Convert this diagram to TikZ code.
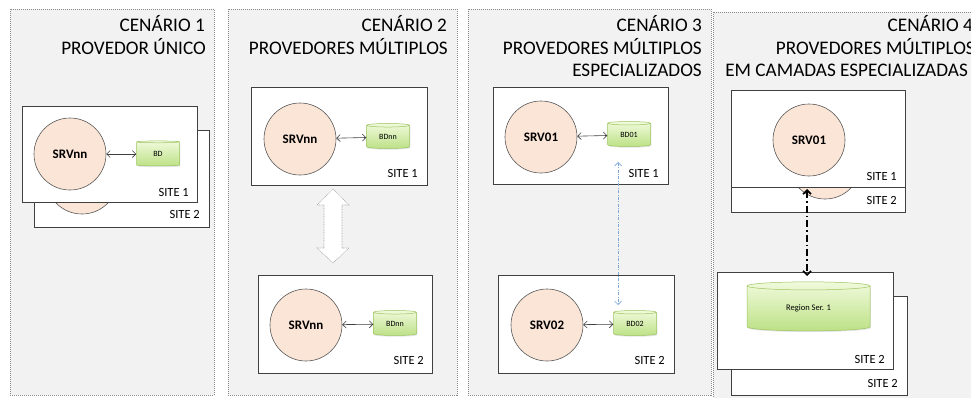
\documentclass[tikz,border=0pt]{standalone}
\usepackage{fontspec}
\setmainfont{Carlito}
\usetikzlibrary{arrows.meta,shapes.geometric,shadows}

\definecolor{panelgray}{HTML}{F2F2F2}
\definecolor{paneledge}{HTML}{8C8C8C}
\definecolor{boxedge}{HTML}{404040}
\definecolor{srvfill}{HTML}{FBE5D6}
\definecolor{srvedge}{HTML}{595959}
\definecolor{dbtop}{HTML}{F0FADC}
\definecolor{dbbot}{HTML}{BDE186}
\definecolor{dbedge}{HTML}{9CC45E}
\definecolor{linkblue}{HTML}{7FA9DB}

\tikzset{
  panel/.style={draw=paneledge,fill=panelgray,dash pattern=on 1pt off 1pt,line width=0.6pt},
  sitebox/.style={draw=boxedge,fill=white,line width=0.7pt},
  sitelabel/.style={font=\fontsize{12.5}{14}\selectfont,anchor=base east,inner sep=0pt},
  title/.style={font=\fontsize{19.2}{22}\selectfont,anchor=base east,inner sep=0pt},
  srv/.style={circle,draw=srvedge,fill=srvfill,line width=0.6pt,minimum size=72pt,inner sep=0pt,
    font=\fontsize{13}{15}\selectfont\bfseries},
  db/.style={cylinder,shape border rotate=90,aspect=0.2,draw=dbedge,line width=0.5pt,
    top color=dbtop,bottom color=dbbot,minimum width=43pt,minimum height=25pt,inner sep=0pt,
    font=\fontsize{8}{9}\selectfont,
    drop shadow={opacity=0.2,shadow xshift=0.8pt,shadow yshift=-1.2pt}},
  barb/.tip={Straight Barb[length=3.5pt,width=7pt]},
  link/.style={draw=boxedge,line width=0.6pt,barb-barb},
  bluelink/.style={draw=linkblue,line width=0.7pt,dash pattern=on 3pt off 1.5pt on 0.8pt off 1.5pt,barb-barb},
  blacklink/.style={draw=black,line width=1.6pt,dash pattern=on 7pt off 3pt on 1.6pt off 3pt,
    {Straight Barb[length=4pt,width=8pt]}-{Straight Barb[length=4pt,width=8pt]}},
  swaparrow/.style={draw=gray!70,fill=white,dash pattern=on 0.8pt off 0.8pt,line width=0.6pt}
}

\begin{document}
\begin{tikzpicture}[x=1pt,y=-1pt]
  \useasboundingbox (0,0) rectangle (971,397);
  \clip (0,0) rectangle (971,397);

  % four scenario panels
  \draw[panel] (10,9)   rectangle (214,395);
  \draw[panel] (228,9)  rectangle (457,395);
  \draw[panel] (468,9)  rectangle (711,395);
  \draw[panel] (713,12) rectangle (990,402);

  \node[title] (t1a) at (205,31.5) {CENÁRIO 1};
  \node[title] (t1b) at (206,54)   {PROVEDOR ÚNICO};
  \node[title] (t2a) at (447,31.5) {CENÁRIO 2};
  \node[title] (t2b) at (448,54)   {PROVEDORES MÚLTIPLOS};
  \node[title] (t3a) at (702,31.5) {CENÁRIO 3};
  \node[title] (t3b) at (702,54)   {PROVEDORES MÚLTIPLOS};
  \node[title] (t3c) at (702,76.5) {ESPECIALIZADOS};
  \node[title] (t4a) at (973,31.5) {CENÁRIO 4};
  \node[title] (t4b) at (975,54)   {PROVEDORES MÚLTIPLOS};
  \node[title] (t4c) at (968,76.5) {EM CAMADAS ESPECIALIZADAS};

  % cenario 1: site 2 sits behind site 1
  \draw[sitebox] (34,130) rectangle (209,227);
  \node[srv] (srv1b) at (82,178) {};
  \node[sitelabel] (site1b) at (200,218) {SITE 2};
  \draw[sitebox] (22,106) rectangle (197,202);
  \node[srv] (srv1a) at (70,154) {SRVnn};
  \node[db] (db1a) at (158,154) {BD};
  \node[sitelabel] (site1a) at (189,196) {SITE 1};
  \draw[link] (srv1a) -- (db1a);

  % cenario 2
  \draw[sitebox] (251,87) rectangle (427,185);
  \node[srv] (srv2a) at (300,139) {SRVnn};
  \node[db] (db2a) at (388,137) {BDnn};
  \node[sitelabel] (site2a) at (418,177) {SITE 1};
  \draw[link] (srv2a) -- (db2a);

  \draw[sitebox] (258,275) rectangle (432,373);
  \node[srv] (srv2b) at (306,325) {SRVnn};
  \node[db] (db2b) at (395,324) {BDnn};
  \node[sitelabel] (site2b) at (424,364) {SITE 2};
  \draw[link] (srv2b) -- (db2b);

  \coordinate (swap) at (333,226);
  \draw[swaparrow] (swap) ++(0,-37) -- ++(16,16) -- ++(-7,0) -- ++(0,43) -- ++(7,0)
    -- ++(-16,15) -- ++(-16,-15) -- ++(7,0) -- ++(0,-43) -- ++(-7,0) -- cycle;

  % cenario 3
  \draw[sitebox] (493,87) rectangle (668,184);
  \node[srv] (srv3a) at (541,137) {SRV01};
  \node[db] (db3a) at (629,135) {BD01};
  \node[sitelabel] (site3a) at (659,177) {SITE 1};
  \draw[link] (srv3a) -- (db3a);

  \draw[sitebox] (498,275) rectangle (674,373);
  \node[srv] (srv3b) at (547,325) {SRV02};
  \node[db] (db3b) at (635,324) {BD02};
  \node[sitelabel] (site3b) at (665,364) {SITE 2};
  \draw[link] (srv3b) -- (db3b);

  \coordinate (rep3a) at (618,162);
  \coordinate (rep3b) at (618,305);
  \draw[bluelink] (rep3a) -- (rep3b);

  % cenario 4: server layer
  \draw[sitebox] (731,114) rectangle (905,212);
  \node[srv] (srv4b) at (825,163) {};
  \node[sitelabel] (site4b) at (897,204) {SITE 2};
  \draw[sitebox] (731,90) rectangle (905,187);
  \node[srv] (srv4a) at (809,140) {SRV01};
  \node[sitelabel] (site4a) at (897,180) {SITE 1};

  % cenario 4: region layer
  \draw[sitebox] (731,296) rectangle (907,395);
  \node[sitelabel] (site4d) at (898,387) {SITE 2};
  \draw[sitebox] (717,272) rectangle (893,369);
  \node[db,minimum width=123pt,minimum height=49pt,aspect=0.18,font=\fontsize{8.5}{10}\selectfont]
    (reg4) at (808.5,308.5) {Region Ser. 1};
  \node[sitelabel] (site4c) at (885,363) {SITE 2};

  \coordinate (tier4a) at (807,189);
  \coordinate (tier4b) at (807,276);
  \draw[blacklink] (tier4a) -- (tier4b);
\end{tikzpicture}
\end{document}
